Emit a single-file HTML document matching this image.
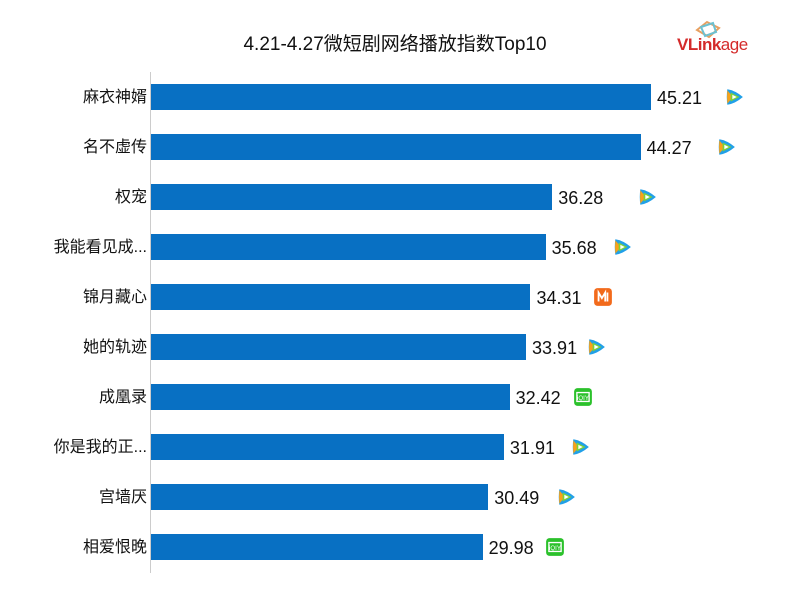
<!DOCTYPE html>
<html><head><meta charset="utf-8"><style>
body{margin:0;width:800px;height:610px;background:#fff;position:relative;overflow:hidden;font-family:"Liberation Sans","Noto Sans CJK SC",sans-serif;color:#111}
.t{position:absolute;left:0;width:790px;top:33px;text-align:center;font-size:19px;line-height:24px}
.ax{position:absolute;left:150px;top:72px;width:1px;height:501px;background:#ccc}
.bar{position:absolute;left:151px;height:26px;background:#0870c3}
.lab{position:absolute;right:653px;font-size:16px;white-space:nowrap;line-height:24px}
.val{position:absolute;font-size:18px;line-height:24px}
.ic{position:absolute;width:20px;height:20px}
</style></head><body>
<div class="t">4.21-4.27微短剧网络播放指数Top10</div>
<div style="position:absolute;left:677px;top:35px;font-size:17px;font-weight:bold;color:#d42a2a;letter-spacing:-0.5px">VLink<span style="font-weight:normal">age</span></div>
<svg style="position:absolute;left:695px;top:20px" width="28" height="20"><polygon points="2,10 12,2 24,8 14,17" fill="none" stroke="#e8a060" stroke-width="2"/><polygon points="6,7 18,3 21,12 10,16" fill="none" stroke="#6cc0d0" stroke-width="2"/></svg>
<div class="ax"></div>
<div id="c"></div>
<script>
var d=[["麻衣神婿",45.21,724,"t"],["名不虚传",44.27,716,"t"],["权宠",36.28,637,"t"],["我能看见成...",35.68,612,"t"],["锦月藏心",34.31,593,"m"],["她的轨迹",33.91,586,"t"],["成凰录",32.42,573,"i"],["你是我的正...",31.91,570,"t"],["宫墙厌",30.49,556,"t"],["相爱恨晚",29.98,545,"i"]];
var h="";
d.forEach(function(r,i){var cy=97+i*50;var w=r[1]*11.06;
h+='<div class="bar" style="top:'+(cy-13)+'px;width:'+w+'px"></div>';
h+='<div class="lab" style="top:'+(cy-11)+'px">'+r[0]+'</div>';
h+='<div class="val" style="left:'+(151+w+6)+'px;top:'+(cy-11)+'px">'+r[1].toFixed(2)+'</div>';
var s;var st='left:'+r[2]+'px;top:'+(cy-10)+'px';
if(r[3]=="t")s='<svg class="ic" style="'+st+'" viewBox="0 0 18 18"><path d="M3 2 Q2 9 3 16 Q10 15 17 9 Q10 3 3 2Z" fill="#21a0e8"/><path d="M3 3 Q2.5 9 3 15 L8 9Z" fill="#f7a21b"/><path d="M6 5 L14 9 L6 13Z" fill="#7bd13a"/><path d="M7.5 7 L11.5 9 L7.5 11Z" fill="#fff"/></svg>';
else if(r[3]=="m")s='<svg class="ic" style="'+st+'" viewBox="0 0 18 18"><rect x="1" y="1" width="16" height="16" rx="3" fill="#f26a1b"/><path d="M5 13V5l3 5 3-5v8M13 5v8" stroke="#fff" stroke-width="1.6" fill="none"/></svg>';
else s='<svg class="ic" style="'+st+'" viewBox="0 0 18 18"><rect x="1" y="1" width="16" height="16" rx="3" fill="#2bc12b"/><rect x="3.5" y="5" width="11" height="8" fill="none" stroke="#fff" stroke-width="1.2"/><text x="9" y="11.5" font-size="5.5" fill="#fff" text-anchor="middle" font-family="Liberation Sans">iQIY</text></svg>';
h+=s;});
document.getElementById("c").innerHTML=h;
</script>
</body></html>
